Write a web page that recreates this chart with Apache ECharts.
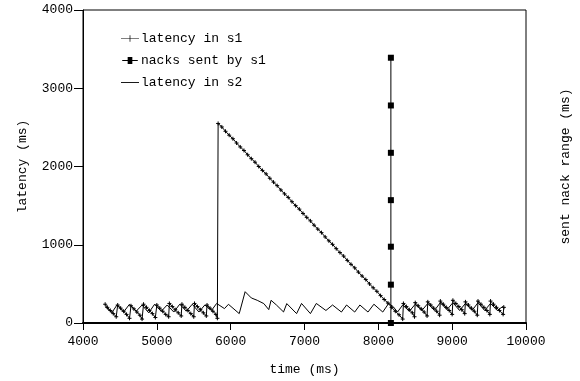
<!DOCTYPE html>
<html>
<head>
<meta charset="utf-8">
<script src="https://cdn.jsdelivr.net/npm/echarts@6/dist/echarts.min.js"></script>
<style>
  html, body { margin: 0; padding: 0; background: #fff; }
  #chart { width: 580px; height: 381px; }
</style>
</head>
<body>
<div id="chart"></div>
<script>
// values: [time (ms), latency (ms)]
const xTicks = [4000, 5000, 6000, 7000, 8000, 9000, 10000];
const yTicks = [0, 1000, 2000, 3000, 4000];

const s1Before = [
  [4300, 240], [4330, 200], [4370, 160], [4410, 120], [4450, 80],
  [4470, 230], [4510, 190], [4550, 150], [4590, 110], [4630, 60],
  [4650, 220], [4690, 180], [4730, 140], [4770, 100], [4800, 50],
  [4820, 240], [4860, 200], [4900, 160], [4940, 120], [4980, 70],
  [5000, 230], [5040, 190], [5080, 150], [5120, 110], [5160, 80],
  [5170, 250], [5210, 210], [5250, 170], [5290, 130], [5330, 90],
  [5340, 240], [5380, 200], [5420, 160], [5460, 120], [5500, 80],
  [5510, 250], [5550, 210], [5590, 170], [5630, 130], [5670, 90],
  [5680, 230], [5720, 190], [5760, 150], [5800, 110], [5820, 60],
];

const s1Drain = [
  [5830, 2550], [5880, 2505], [5930, 2450], [5980, 2400], [6030, 2355],
  [6080, 2300], [6130, 2250], [6180, 2205], [6230, 2150], [6280, 2100],
  [6330, 2055], [6380, 2000], [6430, 1950], [6480, 1905], [6530, 1850],
  [6580, 1800], [6630, 1755], [6680, 1700], [6730, 1650], [6780, 1605],
  [6830, 1550], [6880, 1500], [6930, 1455], [6980, 1400], [7030, 1350],
  [7080, 1305], [7130, 1250], [7180, 1200], [7230, 1155], [7280, 1100],
  [7330, 1050], [7380, 1005], [7430, 950], [7480, 900], [7530, 855],
  [7580, 800], [7630, 750], [7680, 705], [7730, 650], [7780, 600],
  [7830, 555], [7880, 500], [7930, 450], [7980, 405], [8030, 350],
  [8080, 300], [8130, 255], [8180, 200], [8230, 150], [8280, 105],
  [8330, 50],
];

const s1After = [
  [8340, 250], [8380, 210], [8420, 170], [8460, 130], [8490, 80],
  [8500, 260], [8540, 220], [8580, 180], [8620, 140], [8660, 90],
  [8670, 270], [8710, 230], [8750, 190], [8790, 150], [8830, 100],
  [8840, 280], [8880, 240], [8920, 200], [8960, 160], [9000, 110],
  [9010, 290], [9050, 250], [9090, 210], [9130, 170], [9170, 120],
  [9180, 270], [9220, 230], [9260, 190], [9300, 150], [9340, 100],
  [9350, 280], [9390, 240], [9430, 200], [9470, 160], [9510, 110],
  [9520, 280], [9560, 240], [9600, 200], [9640, 160], [9690, 110],
  [9700, 200],
];

const nackTime = [8170, 8170, 8170, 8170, 8170, 8170, 8170];
const nackRange = [0, 490, 975, 1570, 2175, 2780, 3390];

const s2Points = [
  [4300, 210], [4390, 130], [4460, 230], [4550, 140], [4630, 240],
  [4720, 150], [4800, 230], [4890, 130], [4970, 240], [5060, 150],
  [5140, 230], [5230, 140], [5310, 240], [5400, 150], [5480, 240],
  [5570, 140], [5650, 230], [5740, 160], [5810, 250], [5916, 184],
  [5970, 239], [6116, 120], [6196, 400], [6280, 320], [6360, 290],
  [6449, 248], [6516, 171], [6547, 290], [6620, 230], [6716, 141],
  [6760, 248], [6893, 120], [6960, 250], [7080, 120], [7160, 250],
  [7290, 160], [7380, 230], [7500, 140], [7570, 230], [7680, 140],
  [7750, 230], [7860, 140], [7940, 240], [8060, 140], [8140, 250],
  [8200, 210], [8260, 140], [8330, 230], [8420, 150], [8500, 240],
  [8590, 160], [8670, 250], [8760, 160], [8840, 260], [8930, 170],
  [9010, 260], [9100, 160], [9180, 250], [9270, 160], [9350, 260],
  [9440, 160], [9520, 250], [9610, 160], [9700, 220],
];

const FONT = 'Liberation Mono';
const plus = 'path://M0,5L10,5M5,0L5,10';

const chart = echarts.init(document.getElementById('chart'), null, { renderer: 'canvas' });

const textStyle = { fontFamily: FONT, fontSize: 13, color: '#000' };
const flatIcon = { color: '#000', borderWidth: 0 };

chart.setOption({
  animation: false,
  backgroundColor: '#fff',
  textStyle,
  grid: {
    left: 83, right: 47, top: 10, bottom: 58,
    show: true, borderColor: '#000', borderWidth: 1,
  },
  legend: {
    orient: 'vertical',
    left: 116, top: 27,
    itemWidth: 18, itemHeight: 7, itemGap: 9,
    textStyle: { fontFamily: FONT, fontSize: 13, color: '#000', padding: [0, 0, 0, -3] },
    data: [
      { name: 'latency in s1', icon: 'path://M0,4.6H9.6V1.5H10.4V4.6H20V5.4H10.4V8.5H9.6V5.4H0Z', itemStyle: flatIcon },
      { name: 'nacks sent by s1', icon: 'path://M0,4.5H7V0.5H13V4.5H20V5.5H13V9.5H7V5.5H0Z', itemStyle: flatIcon },
      { name: 'latency in s2', icon: 'path://M0,4.5H20V5.5H0Z', itemStyle: flatIcon },
    ],
  },
  xAxis: {
    type: 'value',
    min: xTicks[0], max: xTicks[xTicks.length - 1], interval: 1000,
    name: 'time (ms)', nameLocation: 'middle', nameGap: 40,
    nameTextStyle: textStyle,
    axisLine: { show: true, lineStyle: { color: '#000', width: 2 } },
    axisTick: { show: true, length: 7, lineStyle: { color: '#000' } },
    axisLabel: { margin: 12, formatter: v => String(v), ...textStyle },
    splitLine: { show: false },
  },
  yAxis: [
    {
      type: 'value',
      min: yTicks[0], max: yTicks[yTicks.length - 1], interval: 1000,
      name: 'latency (ms)', nameLocation: 'middle', nameGap: 54, nameRotate: 90,
      nameTextStyle: textStyle,
      axisLine: { show: true, lineStyle: { color: '#000', width: 1 } },
      axisTick: { show: true, length: 9, lineStyle: { color: '#000' } },
      axisLabel: { margin: 10, formatter: v => String(v), ...textStyle },
      splitLine: { show: false },
    },
    {
      type: 'value', position: 'right',
      min: yTicks[0], max: yTicks[yTicks.length - 1],
      name: 'sent nack range (ms)', nameLocation: 'middle', nameGap: 33, nameRotate: 90,
      nameTextStyle: textStyle,
      axisLine: { show: false },
      axisTick: { show: false },
      axisLabel: { show: false },
      splitLine: { show: false },
    },
  ],
  series: [
    {
      name: 'latency in s1',
      type: 'line',
      data: [...s1Before, ...s1Drain, ...s1After],
      symbol: plus,
      symbolSize: 4,
      showSymbol: true,
      itemStyle: { color: '#000', borderColor: '#000', borderWidth: 1 },
      lineStyle: { color: '#000', width: 1 },
    },
    {
      name: 'nacks sent by s1',
      type: 'line',
      data: nackTime.map((t, i) => [t, nackRange[i]]),
      symbol: 'rect',
      symbolSize: 6,
      itemStyle: { color: '#000' },
      lineStyle: { color: '#000', width: 1 },
    },
    {
      name: 'latency in s2',
      type: 'line',
      data: s2Points,
      symbol: 'none',
      itemStyle: { color: '#000' },
      lineStyle: { color: '#000', width: 1 },
    },
  ],
});
</script>
</body>
</html>
